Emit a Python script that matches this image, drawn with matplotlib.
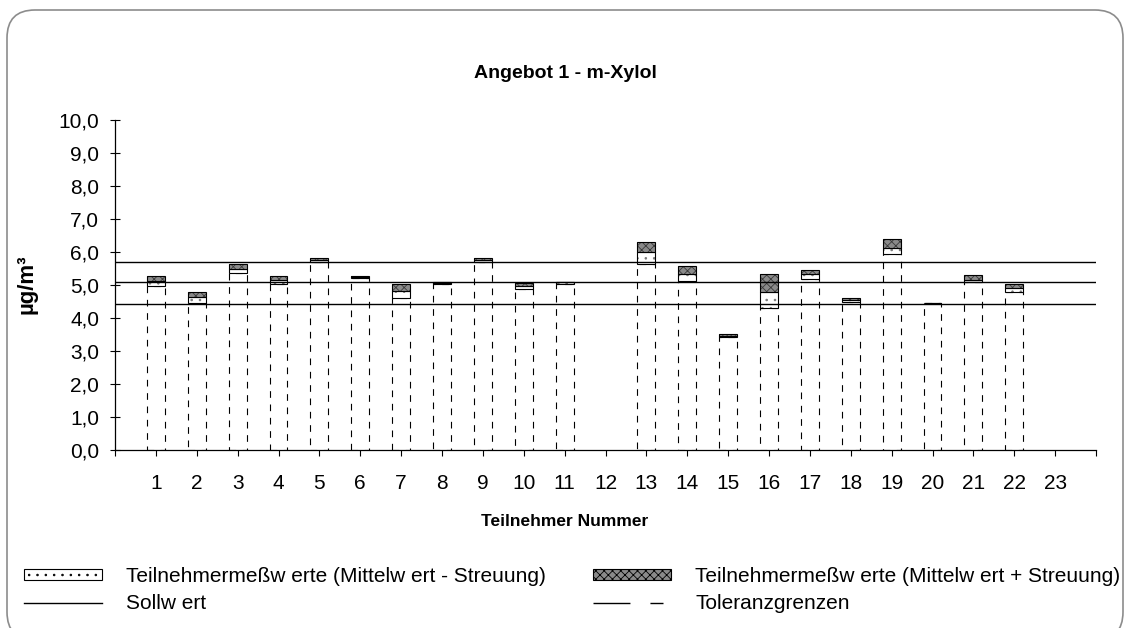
import numpy as np
import matplotlib
matplotlib.use('Agg')
import matplotlib.pyplot as plt
from matplotlib.patches import Patch, FancyBboxPatch
from matplotlib.lines import Line2D

plt.rcParams['font.family'] = ['Liberation Sans', 'DejaVu Sans']
plt.rcParams['hatch.linewidth'] = 0.6

# Teilnehmer 1..23, Mittelwert -/+ Streuung (12 und 23 ohne Werte)
teilnehmer = np.arange(1, 24)
unten = [4.97, 4.44, 5.37, 5.02, 5.71, 5.20, 4.62, 5.02, 5.71, 4.89, 5.02, np.nan,
         5.63, 5.13, 3.42, 4.29, 5.19, 4.50, 5.93, 4.44, 5.09, 4.78, np.nan]
mittel = [5.13, 4.63, 5.49, 5.15, 5.75, 5.25, 4.83, 5.07, 5.77, 4.97, 5.08, np.nan,
          5.99, 5.32, 3.46, 4.78, 5.32, 4.56, 6.11, 4.45, 5.15, 4.90, np.nan]
oben = [5.27, 4.80, 5.64, 5.27, 5.81, 5.28, 5.03, 5.09, 5.81, 5.05, 5.10, np.nan,
        6.31, 5.58, 3.53, 5.34, 5.46, 4.62, 6.39, 4.46, 5.29, 5.03, np.nan]
sollwert = 5.08
toleranz = [4.42, 5.70]

yticks = np.arange(0, 10.5, 1.0)

W, H = 1131, 628
fig = plt.figure(figsize=(W / 100, H / 100), dpi=100)
ax = fig.add_axes([115 / W, 1 - 450 / H, (1096 - 115) / W, 330 / H])

lo = np.array(unten)
mi = np.array(mittel)
up = np.array(oben)
ok = ~np.isnan(lo)
x = teilnehmer[ok]
lo, mi, up = lo[ok], mi[ok], up[ok]
bw = 0.44

# untere Saeule nur mit gestrichelten Kanten
ax.bar(x, lo, bw, fill=False, edgecolor='black', linewidth=0.8,
       linestyle=(0, (6, 6)), zorder=2)
# Mittelwert - Streuung (gepunktet)
ax.bar(x, mi - lo, bw, bottom=lo, facecolor='white', edgecolor='#777777',
       hatch='..', linewidth=0, zorder=2)
ax.bar(x, mi - lo, bw, bottom=lo, fill=False, edgecolor='black',
       linewidth=0.8, zorder=2)
# Mittelwert + Streuung (dunkel)
ax.bar(x, up - mi, bw, bottom=mi, facecolor='#8a8a8a', edgecolor='#3a3a3a',
       hatch='xxxx', linewidth=0, zorder=2)
ax.bar(x, up - mi, bw, bottom=mi, fill=False, edgecolor='black',
       linewidth=0.8, zorder=2)

ax.axhline(sollwert, color='black', linewidth=1, zorder=3)
for t in toleranz:
    ax.axhline(t, color='black', linewidth=1, zorder=3)

ax.set_xlim(0, 24)
ax.set_ylim(0, 10)
ax.set_xticks(np.arange(0, 25))
ax.set_xticklabels([''] + [str(i) for i in teilnehmer] + [''])
ax.set_yticks(yticks)
ax.set_yticklabels([f'{v:.1f}'.replace('.', ',') for v in yticks])
ax.tick_params(axis='x', direction='out', length=4, width=0.8, pad=13, labelsize=15)
ax.tick_params(axis='y', direction='inout', length=7, width=0.8, pad=8, labelsize=15)
for s in ['top', 'right']:
    ax.spines[s].set_visible(False)
for s in ['left', 'bottom']:
    ax.spines[s].set_linewidth(0.9)

fig.text(0.5, 1 - 73 / H, 'Angebot 1 - m-Xylol', ha='center', va='center',
         fontsize=14, fontweight='bold')
fig.text(0.499, 1 - 521 / H, 'Teilnehmer Nummer', ha='center', va='center',
         fontsize=12.5, fontweight='bold')
fig.text(27 / W, 1 - 284 / H, 'µg/m³', ha='center', va='center', rotation=90,
         fontsize=16, fontweight='bold')

# Legende in zwei Spalten
h_minus = Patch(facecolor='white', edgecolor='black', hatch='..', linewidth=0.8)
h_plus = Patch(facecolor='#8a8a8a', edgecolor='black', hatch='xxxx', linewidth=0.8)
h_soll = Line2D([], [], color='black', linewidth=1)
h_tol = Line2D([], [], color='black', linewidth=1, dashes=(26.6, 14.4, 9.4, 40))

leg_kw = dict(loc='upper left', frameon=False, fontsize=15, handlelength=3.75,
              handleheight=0.4, handletextpad=1.15, labelspacing=0.4,
              borderpad=0, borderaxespad=0)
leg1 = fig.legend([h_minus, h_soll],
                  ['Teilnehmermeßw erte (Mittelw ert - Streuung)', 'Sollw ert'],
                  bbox_to_anchor=(24 / W, 1 - 567 / H), **leg_kw)
leg2 = fig.legend([h_plus, h_tol],
                  ['Teilnehmermeßw erte (Mittelw ert + Streuung)', 'Toleranzgrenzen'],
                  bbox_to_anchor=(593 / W, 1 - 567 / H), **leg_kw)

rahmen = FancyBboxPatch((0.07, -0.12), 11.16, 6.30,
                        boxstyle='round,pad=0,rounding_size=0.28',
                        transform=fig.dpi_scale_trans, fill=False,
                        edgecolor='#8c8c8c', linewidth=1.2)
fig.add_artist(rahmen)

fig.savefig('out.png', dpi=100)
